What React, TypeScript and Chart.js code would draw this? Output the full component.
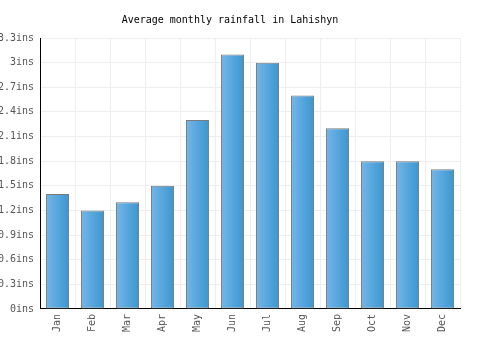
import React, { useEffect, useRef } from "react";
import { Chart, registerables } from "chart.js";

Chart.register(...registerables);

const months = ["Jan", "Feb", "Mar", "Apr", "May", "Jun", "Jul", "Aug", "Sep", "Oct", "Nov", "Dec"];
const rainfall = [1.4, 1.2, 1.3, 1.5, 2.3, 3.1, 3.0, 2.6, 2.2, 1.8, 1.8, 1.7];
const titleText = "Average monthly rainfall in Lahishyn";
const yMax = 3.3;
const yStep = 0.3;

const FONT = "'DejaVu Sans Mono', monospace";
const BAR_PCT = 0.66;

export default function App() {
  const ref = useRef<HTMLCanvasElement | null>(null);
  useEffect(() => {
    const canvas = ref.current;
    if (!canvas) return;
    const chart = new Chart(canvas, {
      type: "bar",
      data: {
        labels: months,
        datasets: [
          {
            data: rainfall,
            backgroundColor: (ctx: any) => {
              const c = ctx.chart;
              const xs = c.scales && c.scales.x;
              if (!xs || !c.chartArea || ctx.dataIndex === undefined) return "#55a6dc";
              const cx = xs.getPixelForValue(ctx.dataIndex);
              const w = (xs.width / months.length) * BAR_PCT;
              const g = c.ctx.createLinearGradient(cx - w / 2, 0, cx + w / 2, 0);
              g.addColorStop(0, "#74b6ea");
              g.addColorStop(1, "#3a97cf");
              return g;
            },
            borderColor: "#7a7a7a",
            borderWidth: 1,
            borderSkipped: false,
            barPercentage: BAR_PCT,
            categoryPercentage: 1,
          },
        ],
      },
      options: {
        animation: false,
        responsive: false,
        layout: { padding: { left: 0, right: 40, top: 1, bottom: 13 } },
        plugins: {
          legend: { display: false },
          tooltip: { enabled: false },
          title: {
            display: true,
            text: titleText,
            color: "#000",
            font: { family: FONT, size: 10, weight: "normal" },
            padding: { top: 13, bottom: 12 },
          },
        },
        scales: {
          x: {
            grid: { color: "#eeeeee", offset: true, drawTicks: false },
            border: { color: "#000", width: 1 },
            ticks: {
              color: "#555",
              font: { family: FONT, size: 10 },
              maxRotation: 90,
              minRotation: 90,
              padding: 5,
            },
          },
          y: {
            min: 0,
            max: yMax,
            afterFit: (scale: any) => {
              scale.width = 40;
            },
            grid: { color: "#eeeeee", drawTicks: false },
            border: { color: "#000", width: 1 },
            ticks: {
              stepSize: yStep,
              color: "#555",
              font: { family: FONT, size: 10 },
              padding: 6,
              callback: (v: any) => `${Math.round(Number(v) * 10) / 10}ins`,
            },
          },
        },
      },
    });
    return () => chart.destroy();
  }, []);
  return (
    <div style={{ position: "fixed", left: 0, top: 0, width: 500, height: 350, background: "#fff" }}>
      <canvas ref={ref} width={500} height={350} style={{ width: 500, height: 350 }} />
    </div>
  );
}
